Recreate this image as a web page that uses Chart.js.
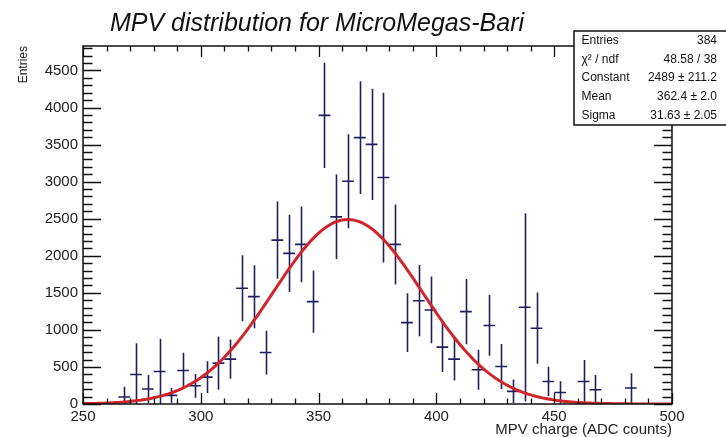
<!DOCTYPE html>
<html>
<head>
<meta charset="utf-8">
<script src="https://cdn.jsdelivr.net/npm/chart.js@4.4.1/dist/chart.umd.min.js"></script>
<style>
  html, body { margin: 0; padding: 0; background: #ffffff; }
  canvas { display: block; }
</style>
</head>
<body>
<canvas id="c" width="726" height="437"></canvas>
<script>
// Histogram bins (centre, content, error); bin width is 5 ADC counts
const binWidth = 5;
const binCenters = [267.5, 272.5, 277.5, 282.5, 287.5, 292.5, 297.5, 302.5, 307.5, 312.5,
                    317.5, 322.5, 327.5, 332.5, 337.5, 342.5, 347.5, 352.5, 357.5, 362.5,
                    367.5, 372.5, 377.5, 382.5, 387.5, 392.5, 397.5, 402.5, 407.5, 412.5,
                    417.5, 422.5, 427.5, 432.5, 437.5, 442.5, 447.5, 452.5, 462.5, 467.5,
                    482.5];
const binContents = [94, 398, 202, 439, 116, 452, 246, 363, 552, 606,
                     1561, 1448, 694, 2211, 2032, 2153, 1381, 3894, 2525, 3005,
                     3594, 3503, 3055, 2153, 1098, 1394, 1269, 767, 606, 1246,
                     462, 1060, 506, 170, 1305, 1023, 304, 156, 304, 192,
                     215];
const binErrors = [140, 420, 190, 440, 100, 240, 160, 215, 360, 265,
                   445, 425, 295, 520, 520, 510, 420, 710, 570, 635,
                   760, 750, 1145, 540, 395, 480, 450, 335, 290, 440,
                   270, 410, 305, 160, 1270, 480, 200, 150, 290, 200,
                   200];

// Gaussian fit result
const fitConstant = 2489;
const fitMean = 362.4;
const fitSigma = 31.63;

// Axis ticks
const xTickLabels = [250, 300, 350, 400, 450, 500];
const yTickLabels = [0, 500, 1000, 1500, 2000, 2500, 3000, 3500, 4000, 4500];
const xRange = [250, 500];
const yRange = [0, 4830];

// Statistics box rows
const statsNames = ['Entries', 'χ² / ndf', 'Constant', 'Mean', 'Sigma'];
const statsValues = ['384', '48.58 / 38', '2489 ± 211.2', '362.4 ± 2.0', '31.63 ± 2.05'];

const titleText = 'MPV distribution for MicroMegas-Bari';
const FONT = '"Liberation Sans", Arial, Helvetica, sans-serif';

// Fit function sampled over the histogram range
const fitPoints = [];
for (let x = xRange[0]; x <= xRange[1] + 1e-9; x += 1.25) {
  const z = (x - fitMean) / fitSigma;
  fitPoints.push({ x: x, y: fitConstant * Math.exp(-0.5 * z * z) });
}

const histPoints = binCenters.map((c, i) => ({ x: c, y: binContents[i] }));

const markerColor = '#1e1f5c';

const histPlugin = {
  id: 'histPlugin',
  beforeDatasetsDraw(chart) {
    const { ctx, chartArea: a } = chart;
    const xs = chart.scales.x, ys = chart.scales.y;
    ctx.save();
    ctx.beginPath();
    ctx.rect(a.left, a.top, a.right - a.left, a.bottom - a.top);
    ctx.clip();
    ctx.strokeStyle = markerColor;
    ctx.lineWidth = 1.6;
    ctx.beginPath();
    binCenters.forEach((c, i) => {
      const v = binContents[i], e = binErrors[i];
      const px = Math.round(xs.getPixelForValue(c)) + 0.5;
      const py = ys.getPixelForValue(v);
      const x0 = xs.getPixelForValue(c - binWidth / 2);
      const x1 = xs.getPixelForValue(c + binWidth / 2);
      ctx.moveTo(x0, py);
      ctx.lineTo(x1, py);
      ctx.moveTo(px, ys.getPixelForValue(Math.max(0, v - e)));
      ctx.lineTo(px, ys.getPixelForValue(v + e));
    });
    ctx.stroke();
    ctx.restore();
  },
  afterDatasetsDraw(chart) {
    const { ctx, chartArea: a } = chart;
    const xs = chart.scales.x, ys = chart.scales.y;
    ctx.save();
    ctx.strokeStyle = '#111111';
    ctx.lineWidth = 1.5;
    ctx.strokeRect(a.left, a.top, a.right - a.left, a.bottom - a.top);
    ctx.lineWidth = 1.3;
    ctx.beginPath();
    // x ticks: major every 50, minor every 10, on bottom and top
    for (let v = xRange[0]; v <= xRange[1]; v += 10) {
      const major = xTickLabels.includes(v);
      const len = major ? 11 : 5.5;
      const px = Math.round(xs.getPixelForValue(v)) + 0.5;
      ctx.moveTo(px, a.bottom); ctx.lineTo(px, a.bottom - len);
      ctx.moveTo(px, a.top); ctx.lineTo(px, a.top + len);
    }
    // y ticks: major every 500, minor every 100, on left and right
    for (let v = yRange[0]; v <= yRange[1]; v += 100) {
      const major = yTickLabels.includes(v);
      const len = major ? 18 : 9.5;
      const py = Math.round(ys.getPixelForValue(v)) + 0.5;
      ctx.moveTo(a.left, py); ctx.lineTo(a.left + len, py);
      ctx.moveTo(a.right, py); ctx.lineTo(a.right - len, py);
    }
    ctx.stroke();
    ctx.restore();
  },
  afterDraw(chart) {
    const { ctx } = chart;
    ctx.save();
    // Title
    ctx.fillStyle = '#111111';
    ctx.font = 'italic 25px ' + FONT;
    ctx.textAlign = 'left';
    ctx.textBaseline = 'alphabetic';
    ctx.fillText(titleText, 110, 31);

    // Statistics box
    const bx = 574, by = 31, bw = 160, bh = 94;
    ctx.fillStyle = '#ffffff';
    ctx.fillRect(bx, by, bw, bh);
    ctx.strokeStyle = '#111111';
    ctx.lineWidth = 1.5;
    ctx.strokeRect(bx, by, bw, bh);
    ctx.fillStyle = '#111111';
    ctx.font = '12px ' + FONT;
    ctx.textBaseline = 'middle';
    const rowH = bh / statsNames.length;
    statsNames.forEach((name, i) => {
      const cy = by + rowH * (i + 0.5);
      ctx.textAlign = 'left';
      ctx.fillText(name, 581.5, cy);
      ctx.textAlign = 'right';
      ctx.fillText(statsValues[i], 717, cy);
    });
    ctx.restore();
  }
};

new Chart(document.getElementById('c'), {
  type: 'scatter',
  data: {
    datasets: [
      {
        label: 'gaus',
        type: 'line',
        data: fitPoints,
        borderColor: '#d0262b',
        borderWidth: 3,
        pointRadius: 0,
        tension: 0,
        fill: false
      },
      {
        label: 'MPV',
        data: histPoints,
        pointRadius: 0,
        showLine: false
      }
    ]
  },
  options: {
    responsive: false,
    animation: false,
    layout: { padding: { top: 46, right: 54, left: 0, bottom: 0 } },
    plugins: {
      legend: { display: false },
      tooltip: { enabled: false },
      title: { display: false }
    },
    scales: {
      x: {
        type: 'linear',
        min: xRange[0],
        max: xRange[1],
        afterBuildTicks(s) { s.ticks = xTickLabels.map(v => ({ value: v })); },
        afterFit(s) { s.height = 33; },
        grid: { display: false, drawTicks: false },
        border: { display: false },
        ticks: {
          color: '#222222',
          padding: 3.5,
          maxRotation: 0,
          autoSkip: false,
          callback: v => String(v),
          font: { family: FONT, size: 15 }
        },
        title: {
          display: true,
          text: 'MPV charge (ADC counts)',
          align: 'end',
          color: '#222222',
          padding: 0,
          font: { family: FONT, size: 15, lineHeight: 0.95 }
        }
      },
      y: {
        type: 'linear',
        min: yRange[0],
        max: yRange[1],
        afterBuildTicks(s) { s.ticks = yTickLabels.map(v => ({ value: v })); },
        afterFit(s) { s.width = 83; },
        grid: { display: false, drawTicks: false },
        border: { display: false },
        ticks: {
          color: '#222222',
          padding: 5,
          autoSkip: false,
          callback: v => String(v),
          font: { family: FONT, size: 15 }
        },
        title: {
          display: true,
          text: 'Entries',
          align: 'end',
          color: '#222222',
          padding: { top: 16.5, bottom: 0 },
          font: { family: FONT, size: 12, lineHeight: 1.2 }
        }
      }
    }
  },
  plugins: [histPlugin]
});
</script>
</body>
</html>
